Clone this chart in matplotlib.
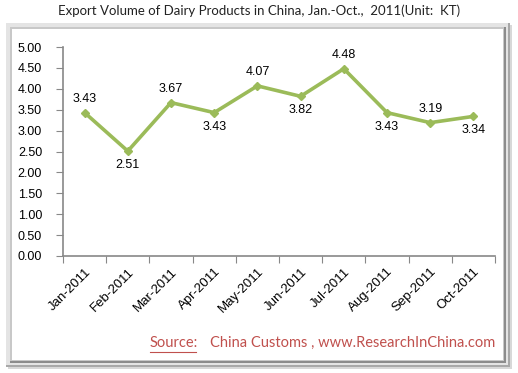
import matplotlib
import matplotlib.pyplot as plt
from matplotlib.patches import Rectangle
import numpy as np

plt.switch_backend('agg')

months = ['Jan-2011', 'Feb-2011', 'Mar-2011', 'Apr-2011', 'May-2011',
          'Jun-2011', 'Jul-2011', 'Aug-2011', 'Sep-2011', 'Oct-2011']
volume = [3.43, 2.51, 3.67, 3.43, 4.07, 3.82, 4.48, 3.43, 3.19, 3.34]
label_above = [True, False, True, False, True, False, True, False, True, False]
y_ticks = [0.0, 0.5, 1.0, 1.5, 2.0, 2.5, 3.0, 3.5, 4.0, 4.5, 5.0]

green = '#9BBB59'
red = '#C0504D'

fig = plt.figure(figsize=(5.18, 3.73), dpi=100)
W, H = 518.0, 373.0

# bevelled frame
def px_rect(x0, y0, x1, y1, **kw):
    return Rectangle((x0 / W, 1 - y1 / H), (x1 - x0) / W, (y1 - y0) / H,
                     transform=fig.transFigure, zorder=-5, **kw)

fig.patches.append(px_rect(8, 25, 512, 369, facecolor='#d8d8d8', edgecolor='none'))
fig.patches.append(px_rect(6, 23, 510, 367, facecolor='#a8a8a8', edgecolor='none'))
fig.patches.append(px_rect(6, 23, 508, 365, facecolor='#e4e4e4', edgecolor='none'))
fig.patches.append(px_rect(10, 27, 506, 363, facecolor='#8c8c8c', edgecolor='none'))
fig.patches.append(px_rect(10, 27, 504, 361, facecolor='#c8c8c8', edgecolor='none'))
fig.patches.append(px_rect(12, 29, 503, 360, facecolor='white', edgecolor='none'))

fig.text(0.5, 1 - 11 / H, 'Export Volume of Dairy Products in China, Jan.-Oct.,  2011(Unit:  KT)',
         ha='center', va='center', fontsize=9.5, family='Lato', color='#222222')

ax = fig.add_axes([63 / W, 1 - 256 / H, (495 - 63) / W, (256 - 47) / H])
ax.set_facecolor('none')
x = np.arange(len(months))
ax.plot(x, volume, color=green, lw=2.6, marker='D', markersize=4,
        markerfacecolor=green, markeredgecolor=green)

for xi, v, up in zip(x, volume, label_above):
    off = 10 if up else -10
    ax.annotate('%.2f' % v, (xi, v), xytext=(0, off), textcoords='offset points',
                ha='center', va='center', fontsize=9, family='Liberation Sans', color='black')

ax.set_xlim(-0.5, len(months) - 0.5)
ax.set_ylim(0, 5)
ax.set_yticks(y_ticks)
ax.set_yticklabels(['%.2f' % t for t in y_ticks], family='Liberation Sans', fontsize=9)
ax.set_xticks(np.arange(len(months) + 1) - 0.5, minor=False)
ax.set_xticklabels([])
ax.set_xticks(x, minor=True)
ax.set_xticklabels(months, minor=True, rotation=45, ha='right', rotation_mode='anchor',
                   family='Liberation Sans', fontsize=9.5)
ax.tick_params(axis='x', which='minor', length=0, pad=7)
ax.tick_params(axis='x', which='major', length=5, color='#888888')
ax.tick_params(axis='y', length=5, color='#888888', pad=10)

for s in ['top', 'right']:
    ax.spines[s].set_visible(False)
for s in ['left', 'bottom']:
    ax.spines[s].set_color('#888888')
    ax.spines[s].set_linewidth(1.2)

fig.text(150 / W, 1 - 343 / H, 'Source:', ha='left', va='center', fontsize=10.5,
         family='Lato', color=red)
fig.add_artist(matplotlib.lines.Line2D([150 / W, 196 / W], [1 - 352 / H, 1 - 352 / H],
                                        color=red, lw=0.8))
fig.text(210 / W, 1 - 343 / H, 'China Customs , www.ResearchInChina.com', ha='left',
         va='center', fontsize=10.5, family='Lato', color=red)

plt.savefig('out.png', dpi=100)
plt.close()
